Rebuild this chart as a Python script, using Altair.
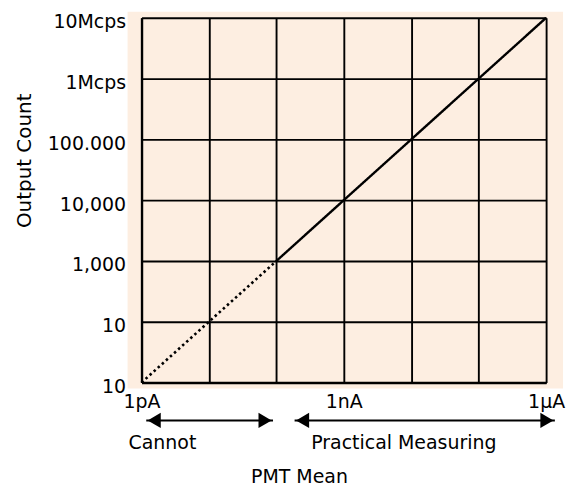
import json
import altair as alt
import pandas as pd

# ---- data ----
grid_idx = [0, 1, 2, 3, 4, 5, 6]
x_tick_labels = ["1pA", "", "", "1nA", "", "", "1μA"]
y_tick_labels = ["10", "10", "1,000", "10,000", "100.000", "1Mcps", "10Mcps"]

dotted_x = [0, 2]
dotted_y = [0, 2]
solid_x = [2, 6]
solid_y = [2, 6]

arrow_names = ["Cannot", "Practical Measuring"]
arrow_start = [0.07, 2.27]
arrow_end = [1.95, 6.13]
arrow_label_x = [0.31, 3.89]

FONT = "DejaVu Sans"
BG = "#fdeee1"

line_df = pd.DataFrame(
    {"x": dotted_x + solid_x, "y": dotted_y + solid_y,
     "seg": ["dotted"] * len(dotted_x) + ["solid"] * len(solid_x)}
)
arrow_df = pd.DataFrame(
    {"name": arrow_names, "start": arrow_start, "end": arrow_end, "lx": arrow_label_x}
)

xscale = alt.Scale(domain=[0, 6], nice=False, zero=False)
yscale = alt.Scale(domain=[0, 6], nice=False, zero=False)

xlab_expr = json.dumps(x_tick_labels) + "[datum.value]"
ylab_expr = json.dumps(y_tick_labels) + "[datum.value]"

xaxis = alt.Axis(
    values=grid_idx, labelExpr=xlab_expr, grid=True, gridColor="black", gridWidth=1.9,
    gridOpacity=1, domainColor="black", domainWidth=2.4, ticks=False, labelPadding=10,
    labelFontSize=19, labelFont=FONT, labelColor="black", labelFlush=False,
    title="PMT Mean", titleFont=FONT, titleFontSize=19, titleFontWeight="normal",
    titleColor="black", titleX=158, titleY=100, titleAlign="center", titleBaseline="alphabetic",
    zindex=1,
)
yaxis = alt.Axis(
    values=grid_idx, labelExpr=ylab_expr, grid=True, gridColor="black", gridWidth=1.9,
    gridOpacity=1, domainColor="black", domainWidth=2.4, ticks=False, labelPadding=16,
    labelOffset=4,
    labelFontSize=19, labelFont=FONT, labelColor="black", labelFlush=False,
    title="Output Count", titleFont=FONT, titleFontSize=20, titleFontWeight="normal",
    titleColor="black", titleX=-117, titleY=143, titleAngle=-90, titleAlign="center",
    titleBaseline="middle", zindex=1,
)

bg = alt.Chart(pd.DataFrame({"k": [0]})).mark_rect(color=BG).encode(
    x=alt.value(-14), x2=alt.value(423), y=alt.value(-6), y2=alt.value(372)
)

lines = alt.Chart(line_df).mark_line(color="black", clip=False).encode(
    x=alt.X("x:Q", scale=xscale, axis=xaxis),
    y=alt.Y("y:Q", scale=yscale, axis=yaxis),
    strokeDash=alt.StrokeDash("seg:N", scale=alt.Scale(domain=["dotted", "solid"],
                              range=[[2.5, 3], [1, 0]]), legend=None),
    strokeWidth=alt.StrokeWidth("seg:N", scale=alt.Scale(domain=["dotted", "solid"],
                                range=[2.6, 2.4]), legend=None),
)

ax = alt.X("start:Q", scale=xscale)
rules = alt.Chart(arrow_df).mark_rule(color="black", strokeWidth=2, clip=False).encode(
    x=ax, x2="end:Q", y=alt.value(404)
)
left_heads = alt.Chart(arrow_df).mark_point(
    shape="triangle-left", filled=True, color="black", size=230, opacity=1, xOffset=8, clip=False
).encode(x=ax, y=alt.value(404))
right_heads = alt.Chart(arrow_df).mark_point(
    shape="triangle-right", filled=True, color="black", size=230, opacity=1, xOffset=-8, clip=False
).encode(x=alt.X("end:Q", scale=xscale), y=alt.value(404))
labels = alt.Chart(arrow_df).mark_text(
    font=FONT, fontSize=19, color="black", baseline="middle", align="center", clip=False
).encode(x=alt.X("lx:Q", scale=xscale), y=alt.value(427), text="name:N")

chart = alt.layer(bg, lines, rules, left_heads, right_heads, labels).properties(
    width=406, height=366,
    autosize=alt.AutoSizeParams(type="none"),
    padding={"left": 134, "top": 9, "right": 30, "bottom": 103},
).configure_view(stroke=None)

chart.save("out.html", embed_options={"renderer": "svg", "actions": False})
